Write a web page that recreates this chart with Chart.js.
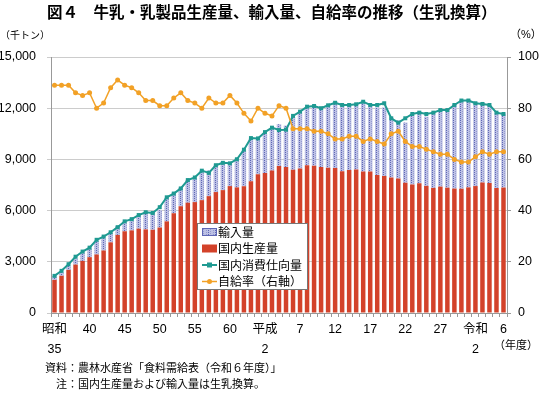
<!DOCTYPE html>
<html>
<head>
<meta charset="utf-8">
<script src="https://cdn.jsdelivr.net/npm/chart.js@4.4.1/dist/chart.umd.min.js"></script>
<style>
  html, body { margin: 0; padding: 0; background: #fff; }
</style>
</head>
<body>
<canvas id="milkChart" width="550" height="394"></canvas>
<script>
// fiscal years 昭和35 (1960) .. 令和6 (2024)
var years = [1960, 1961, 1962, 1963, 1964, 1965, 1966, 1967, 1968, 1969,
  1970, 1971, 1972, 1973, 1974, 1975, 1976, 1977, 1978, 1979,
  1980, 1981, 1982, 1983, 1984, 1985, 1986, 1987, 1988, 1989,
  1990, 1991, 1992, 1993, 1994, 1995, 1996, 1997, 1998, 1999,
  2000, 2001, 2002, 2003, 2004, 2005, 2006, 2007, 2008, 2009,
  2010, 2011, 2012, 2013, 2014, 2015, 2016, 2017, 2018, 2019,
  2020, 2021, 2022, 2023, 2024];

// 国内生産量 (千トン)
var production = [1939, 2180, 2526, 2837, 3053, 3271, 3431, 3663, 4140, 4575,
  4789, 4841, 4944, 4898, 4876, 5008, 5369, 5846, 6256, 6464,
  6498, 6612, 6848, 7086, 7200, 7436, 7360, 7428, 7717, 8134,
  8203, 8343, 8617, 8550, 8388, 8467, 8659, 8629, 8549, 8513,
  8497, 8312, 8380, 8405, 8284, 8293, 8091, 8024, 7946, 7881,
  7631, 7534, 7608, 7448, 7331, 7407, 7342, 7291, 7282, 7362,
  7438, 7646, 7617, 7323, 7350];

// 輸入量 (千トン)
var imports = [237, 215, 234, 365, 502, 505, 793, 749, 563, 515,
  569, 680, 774, 1032, 1038, 1016, 1400, 1200, 1100, 1339,
  1411, 1750, 1500, 1600, 1650, 1400, 1700, 2097, 2500, 2100,
  2300, 2500, 2444, 2434, 3092, 3286, 3418, 3498, 3507, 3683,
  3900, 3896, 3783, 3900, 4036, 3836, 3958, 4020, 3503, 3400,
  3528, 4025, 4194, 4058, 4425, 4500, 4554, 4950, 5164, 5150,
  4900, 4690, 4550, 4380, 4330];

// 国内消費仕向量 (千トン)
var consumption = [2176, 2470, 2860, 3300, 3600, 3830, 4290, 4480, 4730, 5030,
  5370, 5500, 5740, 5905, 5860, 6200, 6780, 7000, 7300, 7790,
  7940, 8340, 8210, 8660, 8800, 8770, 9010, 9570, 10250, 10230,
  10600, 10860, 10720, 10740, 11550, 11800, 12090, 12130, 12000, 12170,
  12320, 12190, 12190, 12230, 12380, 12190, 12190, 12290, 11410, 11150,
  11410, 11660, 11740, 11660, 11740, 11890, 11890, 12190, 12450, 12450,
  12290, 12250, 12190, 11740, 11660];

// 自給率 (%)
var selfRate = [89, 89, 89, 86, 85, 86, 80, 82, 88, 91,
  89, 88, 86, 83, 83, 81, 81, 84, 86, 83,
  82, 80, 84, 82, 82, 85, 82, 78, 75, 80,
  78, 77, 81, 80, 72, 72, 72, 71, 71, 70,
  68, 68, 69, 69, 67, 68, 67, 66, 70, 71,
  67, 65, 65, 64, 63, 62, 62, 60, 59, 59,
  61, 63, 62, 63, 63];

var seriesNames = ['輸入量', '国内生産量', '国内消費仕向量', '自給率（右軸）'];

// x tick labels: which year gets a label and what it says
var xTickYears = [1960, 1965, 1970, 1975, 1980, 1985, 1990, 1995, 2000, 2005, 2010, 2015, 2020, 2024];
var xTickTexts = [['昭和', '35'], '40', '45', '50', '55', '60', ['平成', '2'], '7', '12', '17', '22', '27', ['令和', '2'], '6'];

var titleText = '図４　牛乳・乳製品生産量、輸入量、自給率の推移（生乳換算）';
var noteLines = ['資料：農林水産省「食料需給表（令和６年度）」', '　注：国内生産量および輸入量は生乳換算。'];

var RED = '#d3422a';
var TEAL = '#1f9a92';
var ORANGE = '#f2a126';
var FONT = '"Liberation Sans", "Noto Sans CJK JP", sans-serif';
var JP = '"Noto Sans CJK JP", sans-serif';

// dotted lavender fill used for 輸入量
function makeImportPattern() {
    var p = document.createElement('canvas');
    p.width = 7; p.height = 2;
    var g = p.getContext('2d');
    g.fillStyle = '#bcc0e4';
    g.fillRect(0, 0, 7, 2);
    g.fillStyle = '#5e66b5';
    g.fillRect(5, 0, 1, 1);
    g.fillStyle = '#959bd0';
    g.fillRect(3, 0, 1, 1);
    g.fillRect(0, 1, 1, 1);
    return g.createPattern(p, 'repeat');
}
var importFill = makeImportPattern();

// title, unit labels, notes and the boxed legend
var textPlugin = {
    id: 'texts',
    afterDraw: function (chart) {
        var ctx = chart.ctx;
        ctx.save();
        ctx.fillStyle = '#000';
        ctx.textBaseline = 'middle';
        ctx.textAlign = 'left';

        ctx.font = 'bold 15.5px ' + JP;
        ctx.fillText(titleText, 47, 12);

        ctx.font = '10px ' + JP;
        ctx.fillText('（千トン）', 0, 35);
        ctx.font = '11px ' + FONT;
        ctx.fillText('（%）', 510, 35);
        ctx.fillText('（年度）', 494, 346);

        ctx.font = '11px ' + JP;
        ctx.fillText(noteLines[0], 45, 368);
        ctx.fillText(noteLines[1], 45, 384);

        // legend
        var lx = 197, ly = 223, lw = 110, lh = 66;
        ctx.fillStyle = '#fff';
        ctx.fillRect(lx, ly, lw, lh);
        ctx.strokeStyle = '#777';
        ctx.lineWidth = 1;
        ctx.strokeRect(lx + 0.5, ly + 0.5, lw, lh);

        var rows = [232, 248.5, 265, 281.5];
        var sx = 202, sw = 15;
        // 輸入量
        ctx.fillStyle = importFill;
        ctx.fillRect(sx, rows[0] - 4, sw, 8);
        ctx.strokeStyle = '#5e66b5';
        ctx.strokeRect(sx + 0.5, rows[0] - 3.5, sw - 1, 7);
        // 国内生産量
        ctx.fillStyle = RED;
        ctx.fillRect(sx, rows[1] - 4, sw, 8);
        // 国内消費仕向量
        ctx.strokeStyle = TEAL;
        ctx.lineWidth = 2;
        ctx.beginPath(); ctx.moveTo(sx, rows[2]); ctx.lineTo(sx + sw, rows[2]); ctx.stroke();
        ctx.fillStyle = TEAL;
        ctx.fillRect(sx + sw / 2 - 2.5, rows[2] - 2.5, 5, 5);
        // 自給率
        ctx.strokeStyle = ORANGE;
        ctx.lineWidth = 1.5;
        ctx.beginPath(); ctx.moveTo(sx, rows[3]); ctx.lineTo(sx + sw, rows[3]); ctx.stroke();
        ctx.fillStyle = ORANGE;
        ctx.beginPath(); ctx.arc(sx + sw / 2, rows[3], 2.5, 0, Math.PI * 2); ctx.fill();

        ctx.fillStyle = '#000';
        ctx.font = '12px ' + JP;
        for (var i = 0; i < 4; i++) {
            ctx.fillText(seriesNames[i], 218, rows[i]);
        }
        ctx.restore();
    }
};

var ctx = document.getElementById('milkChart').getContext('2d');
var chart = new Chart(ctx, {
    type: 'bar',
    data: {
        labels: years,
        datasets: [{
            type: 'line',
            label: seriesNames[3],
            data: selfRate,
            yAxisID: 'y1',
            stack: 'rate',
            borderColor: ORANGE,
            backgroundColor: ORANGE,
            borderWidth: 1.5,
            pointRadius: 2.5,
            pointBorderWidth: 0,
            pointStyle: 'circle',
            tension: 0
        }, {
            type: 'line',
            label: seriesNames[2],
            data: consumption,
            yAxisID: 'y',
            stack: 'cons',
            borderColor: TEAL,
            backgroundColor: TEAL,
            borderWidth: 2,
            pointRadius: 2.8,
            pointBorderWidth: 0,
            pointStyle: 'rect',
            tension: 0
        }, {
            label: seriesNames[1],
            data: production,
            yAxisID: 'y',
            stack: 'milk',
            backgroundColor: RED,
            categoryPercentage: 1,
            barPercentage: 0.64
        }, {
            label: seriesNames[0],
            data: imports,
            yAxisID: 'y',
            stack: 'milk',
            backgroundColor: importFill,
            categoryPercentage: 1,
            barPercentage: 0.64
        }]
    },
    options: {
        responsive: false,
        animation: false,
        devicePixelRatio: 1,
        layout: { padding: { top: 57, left: 0, right: 0, bottom: 0 } },
        plugins: {
            legend: { display: false },
            title: { display: false },
            tooltip: { enabled: false }
        },
        scales: {
            x: {
                stacked: true,
                offset: true,
                grid: { drawOnChartArea: false, offset: true, tickLength: 4, color: '#999' },
                border: { color: '#999' },
                ticks: {
                    autoSkip: false,
                    maxRotation: 0,
                    minRotation: 0,
                    padding: 3,
                    color: '#000',
                    font: { family: FONT, size: 12.5, lineHeight: 1.55 },
                    callback: function (value, index) {
                        var k = xTickYears.indexOf(years[index]);
                        return k >= 0 ? xTickTexts[k] : '';
                    }
                },
                afterFit: function (scale) { scale.height = 81; }
            },
            y: {
                position: 'left',
                stacked: true,
                min: 0,
                max: 15000,
                grid: { color: '#cccccc', tickLength: 4 },
                border: { color: '#999' },
                ticks: {
                    stepSize: 3000,
                    padding: 11,
                    color: '#000',
                    font: { family: FONT, size: 12.5 },
                    callback: function (v) { return v.toLocaleString('en-US'); }
                },
                afterFit: function (scale) { scale.width = 51; }
            },
            y1: {
                position: 'right',
                min: 0,
                max: 100,
                grid: { drawOnChartArea: false, tickLength: 4, color: '#999' },
                border: { color: '#999' },
                ticks: {
                    stepSize: 20,
                    padding: 7,
                    color: '#000',
                    font: { family: FONT, size: 12.5 }
                },
                afterFit: function (scale) { scale.width = 43; }
            }
        }
    },
    plugins: [textPlugin]
});
</script>
</body>
</html>
